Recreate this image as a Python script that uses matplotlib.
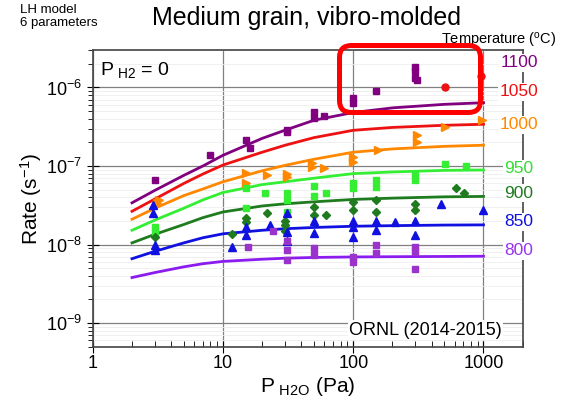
import matplotlib
matplotlib.use('Agg')
import matplotlib.pyplot as plt
from matplotlib.patches import FancyBboxPatch
from matplotlib.ticker import NullFormatter

plt.rcParams['font.family'] = ['Liberation Sans', 'DejaVu Sans']
plt.rcParams['mathtext.default'] = 'regular'

# temperaturas (C), cores e marcadores de cada serie
temperaturas = ['1100', '1050', '1000', '950', '900', '850', '800']
cores_linha = ['#800080', '#ee1111', '#ff8800', '#33ee33', '#1e7b1e', '#1010e0', '#8b1cf0']
cores_ponto = ['#800080', '#ee1111', '#ff8800', '#33ee33', '#1e7b1e', '#1010e0', '#9933cc']
cores_texto = ['#800080', '#ee1111', '#ff8800', '#33dd33', '#1e7b1e', '#1010e0', '#9933ee']
marcadores = ['s', 'o', '>', 's', 'D', '^', 's']
tam_marcador = [5, 5, 6, 5, 4.5, 6, 5]

# curvas do modelo LH
p_modelo = [2, 3, 5, 7, 10, 20, 30, 50, 100, 200, 500, 1000]
modelo_1100 = [3.4e-8, 4.9e-8, 7.6e-8, 1.0e-7, 1.37e-7, 2.25e-7, 2.86e-7, 3.83e-7, 4.8e-7, 5.5e-7, 6.1e-7, 6.4e-7]
modelo_1050 = [2.65e-8, 3.8e-8, 6.0e-8, 7.9e-8, 1.03e-7, 1.5e-7, 1.84e-7, 2.3e-7, 2.85e-7, 3.1e-7, 3.3e-7, 3.4e-7]
modelo_1000 = [2.1e-8, 2.9e-8, 4.2e-8, 5.1e-8, 6.3e-8, 8.7e-8, 1.02e-7, 1.22e-7, 1.5e-7, 1.65e-7, 1.78e-7, 1.84e-7]
modelo_950 = [1.52e-8, 2.05e-8, 2.9e-8, 3.7e-8, 4.6e-8, 5.8e-8, 6.3e-8, 7.0e-8, 8.0e-8, 8.4e-8, 8.8e-8, 8.9e-8]
modelo_900 = [1.05e-8, 1.35e-8, 1.8e-8, 2.2e-8, 2.6e-8, 3.1e-8, 3.3e-8, 3.5e-8, 3.75e-8, 3.9e-8, 4.05e-8, 4.1e-8]
modelo_850 = [6.6e-9, 8.2e-9, 1.05e-8, 1.22e-8, 1.37e-8, 1.52e-8, 1.59e-8, 1.65e-8, 1.71e-8, 1.74e-8, 1.77e-8, 1.78e-8]
modelo_800 = [3.8e-9, 4.4e-9, 5.2e-9, 5.7e-9, 6.1e-9, 6.5e-9, 6.7e-9, 6.85e-9, 6.95e-9, 7.0e-9, 7.05e-9, 7.1e-9]

# pontos experimentais ORNL (P_H2O em Pa, taxa em 1/s)
px_1100 = [3, 8, 15, 16, 31, 31, 50, 50, 60, 100, 100, 150, 300, 300, 300, 310]
py_1100 = [6.6e-8, 1.37e-7, 2.13e-7, 1.69e-7, 2.9e-7, 2.7e-7, 4.9e-7, 4.1e-7, 4.3e-7, 7.3e-7, 6.3e-7, 8.9e-7, 1.82e-6, 1.6e-6, 1.32e-6, 1.24e-6]
px_1050 = [510, 950]
py_1050 = [1.0e-6, 1.4e-6]
px_1000 = [3.2, 3.1, 15, 15, 21.6, 31, 31, 48, 48, 60, 100, 100, 156, 310, 310, 510, 980]
py_1000 = [3.66e-8, 3.4e-8, 8.2e-8, 6.0e-8, 7.6e-8, 8.0e-8, 7.2e-8, 1.08e-7, 9.7e-8, 9.3e-8, 1.3e-7, 1.13e-7, 1.6e-7, 2.47e-7, 2.02e-7, 3.14e-7, 3.83e-7]
px_950 = [3, 3, 15, 15, 21, 31, 31, 31, 50, 50, 62, 100, 100, 150, 150, 300, 300, 510, 730]
py_950 = [1.67e-8, 1.45e-8, 5.2e-8, 2.9e-8, 4.5e-8, 4.5e-8, 3.7e-8, 2.6e-8, 5.5e-8, 4.2e-8, 4.5e-8, 6.0e-8, 5.2e-8, 6.6e-8, 5.4e-8, 7.7e-8, 6.6e-8, 1.07e-7, 9.9e-8]
px_900 = [3, 11.8, 15, 15, 21.6, 30, 30, 30, 50, 50, 62, 100, 100, 150, 150, 300, 300, 610, 710]
py_900 = [1.25e-8, 1.38e-8, 2.15e-8, 1.95e-8, 2.5e-8, 1.5e-8, 1.75e-8, 2.0e-8, 3.0e-8, 2.35e-8, 2.35e-8, 3.5e-8, 2.75e-8, 3.7e-8, 2.6e-8, 3.3e-8, 2.75e-8, 5.2e-8, 4.5e-8]
px_850 = [2.9, 2.9, 3, 3, 11.8, 15, 15, 23, 31, 31, 31, 50, 50, 100, 100, 100, 150, 150, 210, 300, 300, 470, 1000]
py_850 = [3.15e-8, 2.5e-8, 9.8e-9, 8.5e-9, 9.3e-9, 1.67e-8, 1.33e-8, 1.75e-8, 2.5e-8, 1.45e-8, 1.1e-8, 2.0e-8, 1.4e-8, 2.0e-8, 1.67e-8, 1.23e-8, 2.0e-8, 1.55e-8, 1.94e-8, 2.0e-8, 1.33e-8, 3.3e-8, 2.75e-8]
px_800 = [15.5, 24, 31, 31, 31, 50, 50, 100, 100, 150, 150, 300, 300, 300]
py_800 = [9.3e-9, 1.5e-8, 1.1e-8, 8.5e-9, 6.3e-9, 9.0e-9, 7.3e-9, 7.0e-9, 6.0e-9, 9.8e-9, 7.7e-9, 9.3e-9, 8.0e-9, 4.9e-9]

modelos = [modelo_1100, modelo_1050, modelo_1000, modelo_950, modelo_900, modelo_850, modelo_800]
pontos_x = [px_1100, px_1050, px_1000, px_950, px_900, px_850, px_800]
pontos_y = [py_1100, py_1050, py_1000, py_950, py_900, py_850, py_800]

fig = plt.figure(figsize=(5.7, 4.04), dpi=100)
ax = fig.add_axes([0.1628, 0.1418, 0.7542, 0.7344])

for i in range(len(temperaturas)):
    ax.plot(p_modelo, modelos[i], color=cores_linha[i], lw=2, zorder=2)
    ax.plot(pontos_x[i], pontos_y[i], linestyle='none', marker=marcadores[i],
            ms=tam_marcador[i], color=cores_ponto[i], mec=cores_ponto[i], zorder=3)

ax.set_xscale('log')
ax.set_yscale('log')
ax.set_xlim(1, 2000)
ax.set_ylim(5e-10, 3e-6)

ax.grid(True, which='major', color='#808080', lw=0.9)
ax.grid(True, which='minor', axis='y', color='#eeeeee', lw=0.6)
ax.set_axisbelow(True)
for lado in ax.spines.values():
    lado.set_color('#444444')
    lado.set_linewidth(1.2)

ax.tick_params(axis='x', which='major', direction='inout', length=8, labelsize=13, pad=2)
ax.tick_params(axis='x', which='minor', direction='in', length=4)
ax.tick_params(axis='y', which='major', direction='inout', length=8, labelsize=13)
ax.tick_params(axis='y', which='minor', direction='out', length=3.5)
ax.set_xticks([1, 10, 100, 1000])
ax.set_xticklabels(['1', '10', '100', '1000'])
ax.xaxis.set_minor_formatter(NullFormatter())
ax.yaxis.set_minor_formatter(NullFormatter())

ax.set_xlabel('P$_{\\ H2O}$ (Pa)', fontsize=15, labelpad=2)
ax.set_ylabel('Rate (s$^{-1}$)', fontsize=15, labelpad=2)

fig.text(0.537, 0.938, 'Medium grain, vibro-molded', fontsize=18, ha='center', va='baseline')
fig.text(0.035, 0.99, 'LH model\n6 parameters', fontsize=9.5, ha='left', va='top', linespacing=1.15)
fig.text(0.1754, 0.827, 'P$_{\\ H2}$ = 0', fontsize=14, ha='left', va='center')
fig.text(0.8807, 0.183, 'ORNL (2014-2015)', fontsize=13, ha='right', va='center',
         bbox=dict(facecolor='white', edgecolor='none', pad=1))

# escala de temperatura a direita
fig.text(0.977, 0.899, 'Temperature ($^{o}$C)', fontsize=10.5, ha='right', va='center')
pos_rotulos = [0.845, 0.773, 0.691, 0.583, 0.522, 0.451, 0.379]
for i in range(len(temperaturas)):
    fig.text(0.9105, pos_rotulos[i], temperaturas[i], fontsize=12.5, color=cores_texto[i],
             ha='center', va='center', bbox=dict(facecolor='white', edgecolor='none', pad=1))

# destaque em vermelho
caixa = FancyBboxPatch((3.395, 2.915), 1.41, 0.67, boxstyle='round,pad=0,rounding_size=0.12',
                       transform=fig.dpi_scale_trans, fill=False, edgecolor='#ff0000', lw=3.6,
                       zorder=10)
fig.patches.append(caixa)

fig.savefig('out.png', dpi=100)
